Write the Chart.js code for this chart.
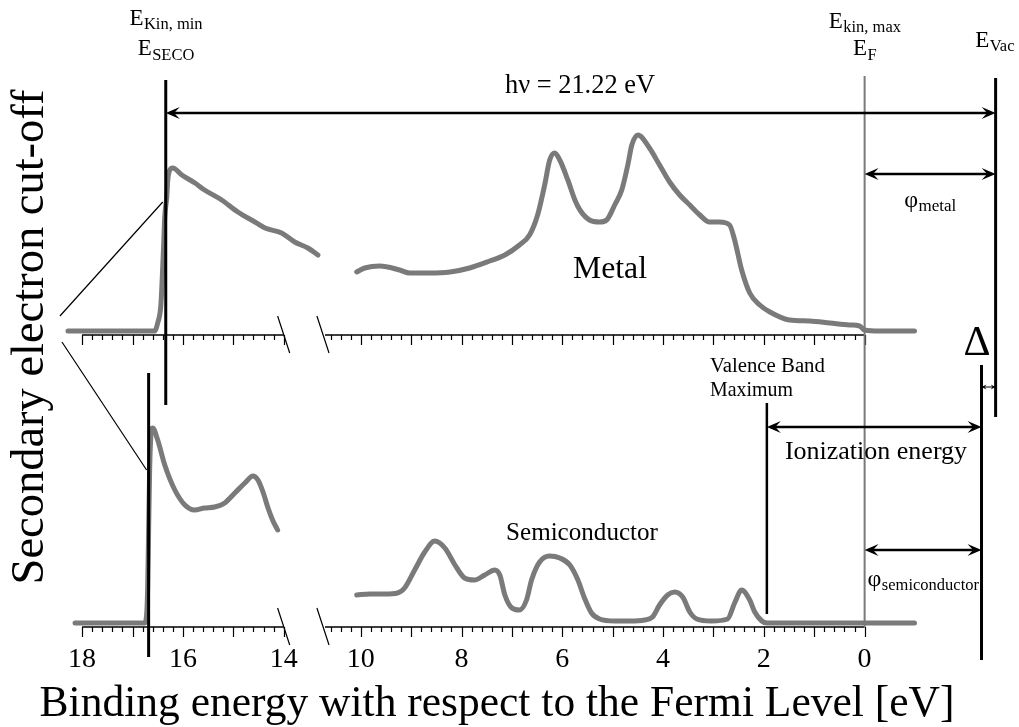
<!DOCTYPE html>
<html>
<head>
<meta charset="utf-8">
<script src="https://cdn.jsdelivr.net/npm/chart.js@4.4.1/dist/chart.umd.min.js"></script>
<style>
  html, body { margin: 0; padding: 0; background: #fff; }
  #wrap { width: 1019px; height: 727px; }
</style>
</head>
<body>
<div id="wrap"><canvas id="ups" width="1019" height="727"></canvas></div>
<script>
// binding energy (eV) / intensity (a.u.)
const metalSecoE = [18.28, 17.4, 16.56, 16.50, 16.44, 16.42, 16.40, 16.38, 16.36, 16.32, 16.30, 16.26, 16.20, 16.02, 15.76, 15.57, 15.23, 14.91, 14.57, 14.37, 14.04, 13.78, 13.52, 13.32];
const metalSecoI = [0, 0, 0, 8, 24, 41, 64, 88, 114, 134, 151, 161, 163, 156, 148, 141, 131, 119, 109, 103, 98, 89, 83, 76];

const metalVbE = [10.08, 9.92, 9.62, 9.23, 9.03, 8.63, 8.23, 7.84, 7.44, 7.14, 6.85, 6.65, 6.49, 6.35, 6.25, 6.15, 6.05, 5.89, 5.75, 5.65, 5.46, 5.26, 5.12, 4.96, 4.82, 4.70, 4.62, 4.50, 4.27, 4.07, 3.87, 3.67, 3.47, 3.27, 3.08, 2.88, 2.68, 2.58, 2.44, 2.28, 2.08, 1.88, 1.49, 1.09, 0.69, 0.30, 0.10, 0.0, -0.30, -0.99];
const metalVbI = [59, 63, 65, 61, 58, 58, 59, 63, 70, 76, 86, 96, 116, 146, 171, 178, 171, 151, 131, 121, 111, 109, 111, 126, 141, 166, 186, 196, 183, 166, 149, 136, 126, 116, 109, 109, 106, 91, 61, 38, 26, 19, 11, 10, 8, 6, 5, 1, 0, 0];

const semiSecoE = [18.14, 17.4, 16.76, 16.72, 16.70, 16.68, 16.66, 16.64, 16.60, 16.50, 16.36, 16.16, 15.96, 15.77, 15.57, 15.37, 15.17, 14.97, 14.77, 14.61, 14.51, 14.41, 14.31, 14.22, 14.12];
const semiSecoI = [0, 0, 0, 8, 33, 93, 153, 183, 195, 183, 158, 133, 118, 113, 115, 116, 120, 130, 140, 147, 143, 131, 115, 103, 93];

const semiVbE = [10.08, 9.82, 9.52, 9.27, 9.13, 8.93, 8.73, 8.53, 8.33, 8.13, 7.94, 7.74, 7.54, 7.34, 7.24, 7.14, 7.00, 6.85, 6.71, 6.61, 6.45, 6.25, 6.05, 5.85, 5.69, 5.56, 5.42, 5.26, 4.96, 4.66, 4.37, 4.21, 4.07, 3.91, 3.77, 3.61, 3.47, 3.33, 3.04, 2.72, 2.58, 2.44, 2.28, 2.18, 2.04, 1.94, -0.99];
const semiVbI = [28, 29, 29, 30, 35, 53, 71, 82, 75, 58, 45, 43, 48, 53, 48, 28, 15, 13, 23, 43, 61, 67, 65, 58, 43, 25, 10, 4, 2, 2, 3, 6, 18, 28, 31, 26, 11, 4, 2, 4, 20, 33, 23, 11, 2, 0, 0];

// vertical offset between the two spectra
const metalOffset = 292;
const semiOffset = 0;

// energy markers (eV)
const eSecoMetal = 16.34;
const eSecoSemi = 16.68;
const eFermi = 0;
const eVbm = 1.94;
const eVacMetal = -2.6;
const eVacSemi = -2.32;

const tickLabels = [18, 16, 14, 10, 8, 6, 4, 2, 0];

// the axis is broken between 14 and ~11 eV
const BREAK_SHIFT = 2.47;
function toU(e) { return e >= 12 ? e - BREAK_SHIFT : e; }

const SERIF = '"Liberation Serif", "DejaVu Serif", serif';
const GREY = '#7a7a7a';

function pts(es, is, off) {
  return es.map((e, i) => ({ x: toU(e), y: is[i] + off }));
}

function spec(data) {
  return {
    data: data,
    borderColor: GREY,
    borderWidth: 5,
    borderCapStyle: 'round',
    borderJoinStyle: 'round',
    pointRadius: 0,
    cubicInterpolationMode: 'monotone',
    fill: false,
    clip: false
  };
}

function font(size) { return size + 'px ' + SERIF; }

// set the font so the text takes the given width
function fitFont(ctx, text, width) {
  ctx.font = font(20);
  const s = 20 * width / ctx.measureText(text).width;
  ctx.font = font(s.toFixed(1));
}

function subText(ctx, main, sub, cx, base, size, subSize, drop) {
  ctx.font = font(size);
  const w1 = ctx.measureText(main).width;
  ctx.font = font(subSize);
  const w2 = ctx.measureText(sub).width;
  const x0 = cx - (w1 + w2) / 2;
  ctx.textAlign = 'left';
  ctx.textBaseline = 'alphabetic';
  ctx.font = font(size);
  ctx.fillText(main, x0, base);
  ctx.font = font(subSize);
  ctx.fillText(sub, x0 + w1 + 0.5, base + drop);
}

function head(ctx, x, y, dir, len, half) {
  // stealth style arrow head pointing in dir (+1 right, -1 left)
  ctx.beginPath();
  ctx.moveTo(x, y);
  ctx.lineTo(x - dir * len, y - half);
  ctx.lineTo(x - dir * len * 0.6, y);
  ctx.lineTo(x - dir * len, y + half);
  ctx.closePath();
  ctx.fill();
}

function dblArrow(ctx, x1, x2, y, lw, len, half) {
  ctx.lineWidth = lw;
  ctx.beginPath();
  ctx.moveTo(x1 + len * 0.5, y);
  ctx.lineTo(x2 - len * 0.5, y);
  ctx.stroke();
  head(ctx, x1, y, -1, len, half);
  head(ctx, x2, y, 1, len, half);
}

const diagram = {
  id: 'diagram',
  afterDatasetsDraw(chart) {
    const ctx = chart.ctx;
    const xs = chart.scales.x, ys = chart.scales.y;
    const px = e => xs.getPixelForValue(toU(e));
    const py = v => ys.getPixelForValue(v);
    ctx.save();
    ctx.fillStyle = '#000';
    ctx.strokeStyle = '#000';
    ctx.lineCap = 'butt';

    // axes with ticks, one under each spectrum
    [[metalOffset - 4, false], [semiOffset - 4, true]].forEach(([lvl, labels]) => {
      const y = py(lvl);
      ctx.strokeStyle = '#000';
      ctx.lineWidth = 1.3;
      ctx.beginPath();
      ctx.moveTo(px(18), y); ctx.lineTo(px(14), y);
      ctx.moveTo(px(10.71), y); ctx.lineTo(px(0), y);
      ctx.stroke();
      ctx.lineWidth = 1.2;
      ctx.beginPath();
      const segs = [[14, 18], [0, 10.6]];
      segs.forEach(([a, b]) => {
        for (let k = Math.round(a * 5); k <= Math.round(b * 5); k++) {
          const e = k / 5;
          const major = k % 5 === 0;
          const x = Math.round(px(e)) + 0.5;
          ctx.moveTo(x, y);
          ctx.lineTo(x, y + (major ? 10 : 5));
        }
      });
      ctx.stroke();
      if (labels) {
        ctx.font = font(28);
        ctx.textAlign = 'center';
        ctx.textBaseline = 'alphabetic';
        tickLabels.forEach(t => ctx.fillText(String(t), px(t), y + 40));
      }
      // axis break marks
      ctx.lineWidth = 1.2;
      ctx.beginPath();
      ctx.moveTo(px(14.12), py(lvl + 19)); ctx.lineTo(px(13.88), py(lvl - 18));
      ctx.moveTo(px(10.87), py(lvl + 19)); ctx.lineTo(px(10.63), py(lvl - 18));
      ctx.stroke();
    });

    // zoom lines toward the cut-off
    ctx.lineWidth = 1.2;
    ctx.beginPath();
    ctx.moveTo(px(18.44), py(307)); ctx.lineTo(px(16.40), py(421));
    ctx.moveTo(px(18.40), py(281)); ctx.lineTo(px(16.72), py(153));
    ctx.stroke();

    // vertical marker lines
    const vline = (e, top, bot, lw, col) => {
      ctx.strokeStyle = col || '#000';
      ctx.lineWidth = lw;
      ctx.beginPath();
      ctx.moveTo(px(e), py(top));
      ctx.lineTo(px(e), py(bot));
      ctx.stroke();
    };
    vline(eFermi, 547, -4, 2, GREY);
    vline(eSecoMetal, 543, 218, 3);
    vline(eSecoSemi, 250, -34, 3);
    vline(eVacMetal, 545, 206, 3);
    vline(eVacSemi, 258, -37, 3);
    vline(eVbm, 220, 9, 2.5);

    // arrows
    ctx.strokeStyle = '#000';
    ctx.fillStyle = '#000';
    dblArrow(ctx, px(eSecoMetal), px(eVacMetal), py(510), 2.5, 14, 6);
    dblArrow(ctx, px(eFermi), px(eVacMetal), py(449), 2.5, 14, 6);
    dblArrow(ctx, px(eVbm), px(eVacSemi), py(196), 2.5, 14, 6);
    dblArrow(ctx, px(eFermi), px(eVacSemi), py(73), 2.5, 14, 6);
    dblArrow(ctx, px(eVacSemi), px(eVacMetal), py(236), 1, 5, 2.5);

    // labels
    ctx.fillStyle = '#000';
    subText(ctx, 'E', 'Kin, min', px(eSecoMetal), 25, 23, 16.5, 4);
    subText(ctx, 'E', 'SECO', px(eSecoMetal), 55, 23, 16.5, 5);
    subText(ctx, 'E', 'kin, max', px(eFermi), 28, 23, 16.5, 4);
    subText(ctx, 'E', 'F', px(eFermi), 55, 23, 16.5, 5);
    subText(ctx, 'E', 'Vac', px(eVacMetal) - 1, 47, 23, 16.5, 4);
    subText(ctx, '\u03C6', 'metal', 930, 207, 24, 17, 4);
    subText(ctx, '\u03C6', 'semiconductor', 923, 586, 24, 16.5, 4);

    ctx.textAlign = 'center';
    fitFont(ctx, 'h\u03BD = 21.22 eV', 150);
    ctx.fillText('h\u03BD = 21.22 eV', 580, 93);
    fitFont(ctx, 'Ionization energy', 182);
    ctx.fillText('Ionization energy', 876, 459);
    fitFont(ctx, 'Metal', 74);
    ctx.fillText('Metal', 610, 278);
    fitFont(ctx, 'Semiconductor', 152);
    ctx.fillText('Semiconductor', 582, 540);
    ctx.font = font(42);
    ctx.fillText('\u0394', 977, 355);

    ctx.textAlign = 'left';
    fitFont(ctx, 'Valence Band', 115);
    ctx.fillText('Valence Band', 710, 372);
    fitFont(ctx, 'Maximum', 83);
    ctx.fillText('Maximum', 710, 396);

    ctx.textAlign = 'center';
    fitFont(ctx, 'Binding energy with respect to the Fermi Level [eV]', 915);
    ctx.fillText('Binding energy with respect to the Fermi Level [eV]', 497, 716);

    ctx.save();
    ctx.translate(43, 337);
    ctx.rotate(-Math.PI / 2);
    fitFont(ctx, 'Secondary electron cut-off', 495);
    ctx.fillText('Secondary electron cut-off', 0, 0);
    ctx.restore();

    ctx.restore();
  }
};

new Chart(document.getElementById('ups'), {
  type: 'line',
  data: {
    datasets: [
      spec(pts(metalSecoE, metalSecoI, metalOffset)),
      spec(pts(metalVbE, metalVbI, metalOffset)),
      spec(pts(semiSecoE, semiSecoI, semiOffset)),
      spec(pts(semiVbE, semiVbI, semiOffset))
    ]
  },
  options: {
    responsive: false,
    animation: false,
    devicePixelRatio: 1,
    layout: { padding: { left: 67, right: 104, top: 0, bottom: 0 } },
    plugins: { legend: { display: false }, tooltip: { enabled: false } },
    scales: {
      x: { type: 'linear', reverse: true, min: -1.0, max: toU(18.3), display: false },
      y: { type: 'linear', min: -104, max: 623, display: false }
    }
  },
  plugins: [diagram]
});
</script>
</body>
</html>
